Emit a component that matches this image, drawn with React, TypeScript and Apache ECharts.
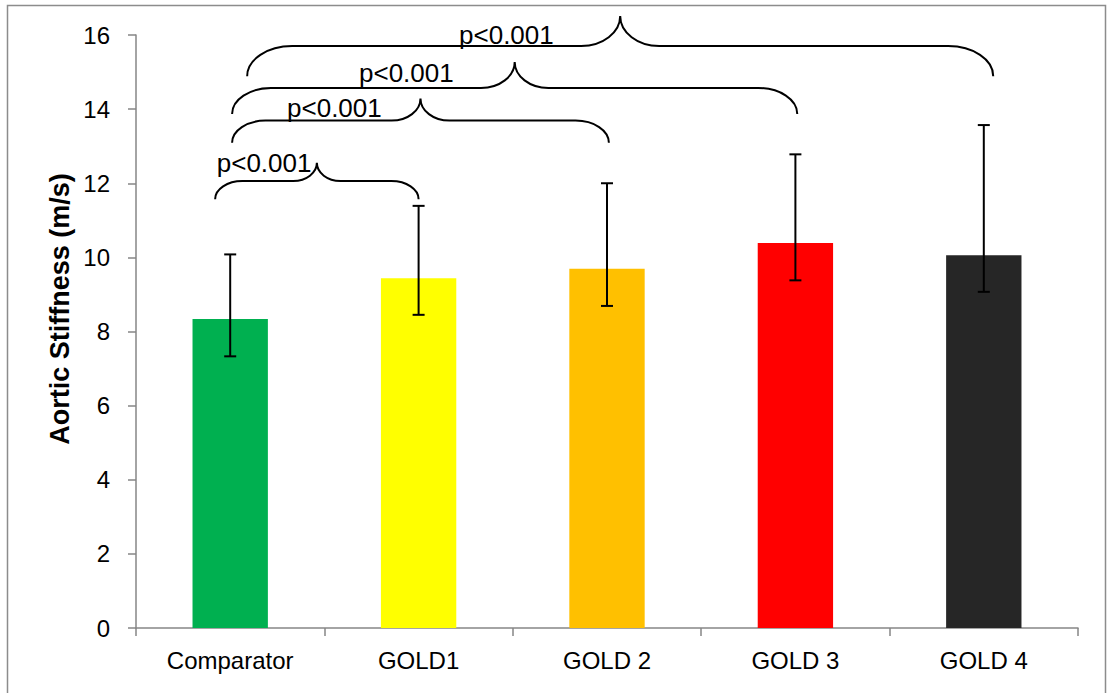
import React, { useEffect, useRef } from "react";
import * as echarts from "echarts";

// ---- data ----
const categories = ["Comparator", "GOLD1", "GOLD 2", "GOLD 3", "GOLD 4"];
const meanValues = [8.34, 9.44, 9.69, 10.39, 10.06];
const lowerValues = [7.33, 8.45, 8.69, 9.38, 9.07];
const upperValues = [10.08, 11.39, 12.0, 12.78, 13.57];
const barColors = ["#00B050", "#FFFF00", "#FFC000", "#FF0000", "#262626"];
const yTitle = "Aortic Stiffness (m/s)";

// significance brackets (category-index units, value units)
const bracketLabels = ["p<0.001", "p<0.001", "p<0.001", "p<0.001"];
const bracketFrom = [-0.08, 0.01, 0.01, 0.09];
const bracketTo = [1.0, 2.01, 3.01, 4.05];
const bracketLevel = [12.06, 13.69, 14.57, 15.7];
const bracketDrop = [0.49, 0.6, 0.7, 0.81];
const bracketLabelX = [0.18, 0.553, 0.935, 1.466];
const bracketLabelY = [12.55, 14.03, 14.97, 16.0];

export default function App() {
  const ref = useRef<HTMLDivElement>(null);
  useEffect(() => {
    if (!ref.current) return;
    const chart = echarts.init(ref.current, null, { renderer: "svg" });
    const font = "Liberation Sans";
    const option: any = {
      animation: false,
      backgroundColor: "#ffffff",
      textStyle: { fontFamily: font },
      grid: { left: 136, right: 30, top: 35, bottom: 65, containLabel: false },
      graphic: [
        {
          type: "rect",
          shape: { x: 7.5, y: 5.5, width: 1098, height: 700 },
          style: { fill: "none", stroke: "#8c8c8c", lineWidth: 1.5 },
          silent: true,
        },
        {
          type: "text",
          x: 60,
          y: 309,
          rotation: Math.PI / 2,
          style: {
            text: yTitle,
            fill: "#000",
            fontSize: 27,
            fontWeight: "bold",
            fontFamily: font,
            align: "center",
            verticalAlign: "middle",
          },
          silent: true,
        },
      ],
      xAxis: {
        type: "category",
        data: categories,
        axisLine: { lineStyle: { color: "#868686", width: 1.5 } },
        axisTick: { show: true, length: 8, alignWithLabel: false, lineStyle: { color: "#868686", width: 1.5 } },
        axisLabel: { color: "#000", fontSize: 24, fontFamily: font, margin: 20 },
        splitLine: { show: false },
      },
      yAxis: {
        type: "value",
        min: 0,
        max: 16,
        interval: 2,
        axisLine: { show: true, lineStyle: { color: "#868686", width: 1.5 } },
        axisTick: { show: true, length: 8, lineStyle: { color: "#868686", width: 1.5 } },
        axisLabel: { color: "#000", fontSize: 24, fontFamily: font, margin: 26 },
        splitLine: { show: false },
      },
      series: [
        {
          type: "bar",
          barWidth: "40%",
          data: meanValues.map((v, i) => ({ value: v, itemStyle: { color: barColors[i] } })),
        },
        {
          type: "custom",
          clip: false,
          z: 5,
          data: categories.map((_, i) => [i, lowerValues[i], upperValues[i]]),
          renderItem: (params: any, api: any) => {
            const lo = api.coord([api.value(0), api.value(1)]);
            const hi = api.coord([api.value(0), api.value(2)]);
            const cw = 6;
            const st = { stroke: "#000", lineWidth: 2 };
            return {
              type: "group",
              children: [
                { type: "line", shape: { x1: lo[0], y1: lo[1], x2: hi[0], y2: hi[1] }, style: st },
                { type: "line", shape: { x1: lo[0] - cw, y1: lo[1], x2: lo[0] + cw, y2: lo[1] }, style: st },
                { type: "line", shape: { x1: hi[0] - cw, y1: hi[1], x2: hi[0] + cw, y2: hi[1] }, style: st },
              ],
            };
          },
        },
        {
          type: "custom",
          clip: false,
          z: 6,
          data: bracketLabels.map((_, i) => [0, bracketLevel[i]]),
          renderItem: (params: any, api: any) => {
            const i = params.dataIndex;
            const x0 = api.coord([0, 0])[0];
            const band = api.size([1, 0])[0];
            const px = (c: number) => x0 + c * band;
            const py = (v: number) => api.coord([0, v])[1];
            const xl = px(bracketFrom[i]);
            const xr = px(bracketTo[i]);
            const xp = (xl + xr) / 2;
            const yh = py(bracketLevel[i]);
            const ye = py(bracketLevel[i] - bracketDrop[i]);
            const yp = py(bracketLevel[i] + bracketDrop[i]);
            const d = ye - yh;
            const r = yh - yp;
            const w = d * 1.5;
            const pw = r * 1.3;
            const k = 0.552;
            const p =
              `M${xl},${ye} C${xl},${ye - k * d} ${xl + w - k * w},${yh} ${xl + w},${yh} ` +
              `L${xp - pw},${yh} C${xp - pw + k * pw},${yh} ${xp},${yp + k * r} ${xp},${yp} ` +
              `C${xp},${yp + k * r} ${xp + pw - k * pw},${yh} ${xp + pw},${yh} ` +
              `L${xr - w},${yh} C${xr - w + k * w},${yh} ${xr},${ye - k * d} ${xr},${ye}`;
            return {
              type: "group",
              children: [
                {
                  type: "path",
                  shape: { pathData: p },
                  style: { fill: "none", stroke: "#000", lineWidth: 2 },
                },
                {
                  type: "text",
                  x: px(bracketLabelX[i]),
                  y: py(bracketLabelY[i]),
                  style: {
                    text: bracketLabels[i],
                    fill: "#000",
                    fontSize: 26,
                    fontFamily: font,
                    align: "center",
                    verticalAlign: "middle",
                  },
                },
              ],
            };
          },
        },
      ],
    };
    chart.setOption(option);
    return () => chart.dispose();
  }, []);
  return (
    <div
      ref={ref}
      style={{ position: "fixed", left: 0, top: 0, width: 1108, height: 693 }}
    />
  );
}
